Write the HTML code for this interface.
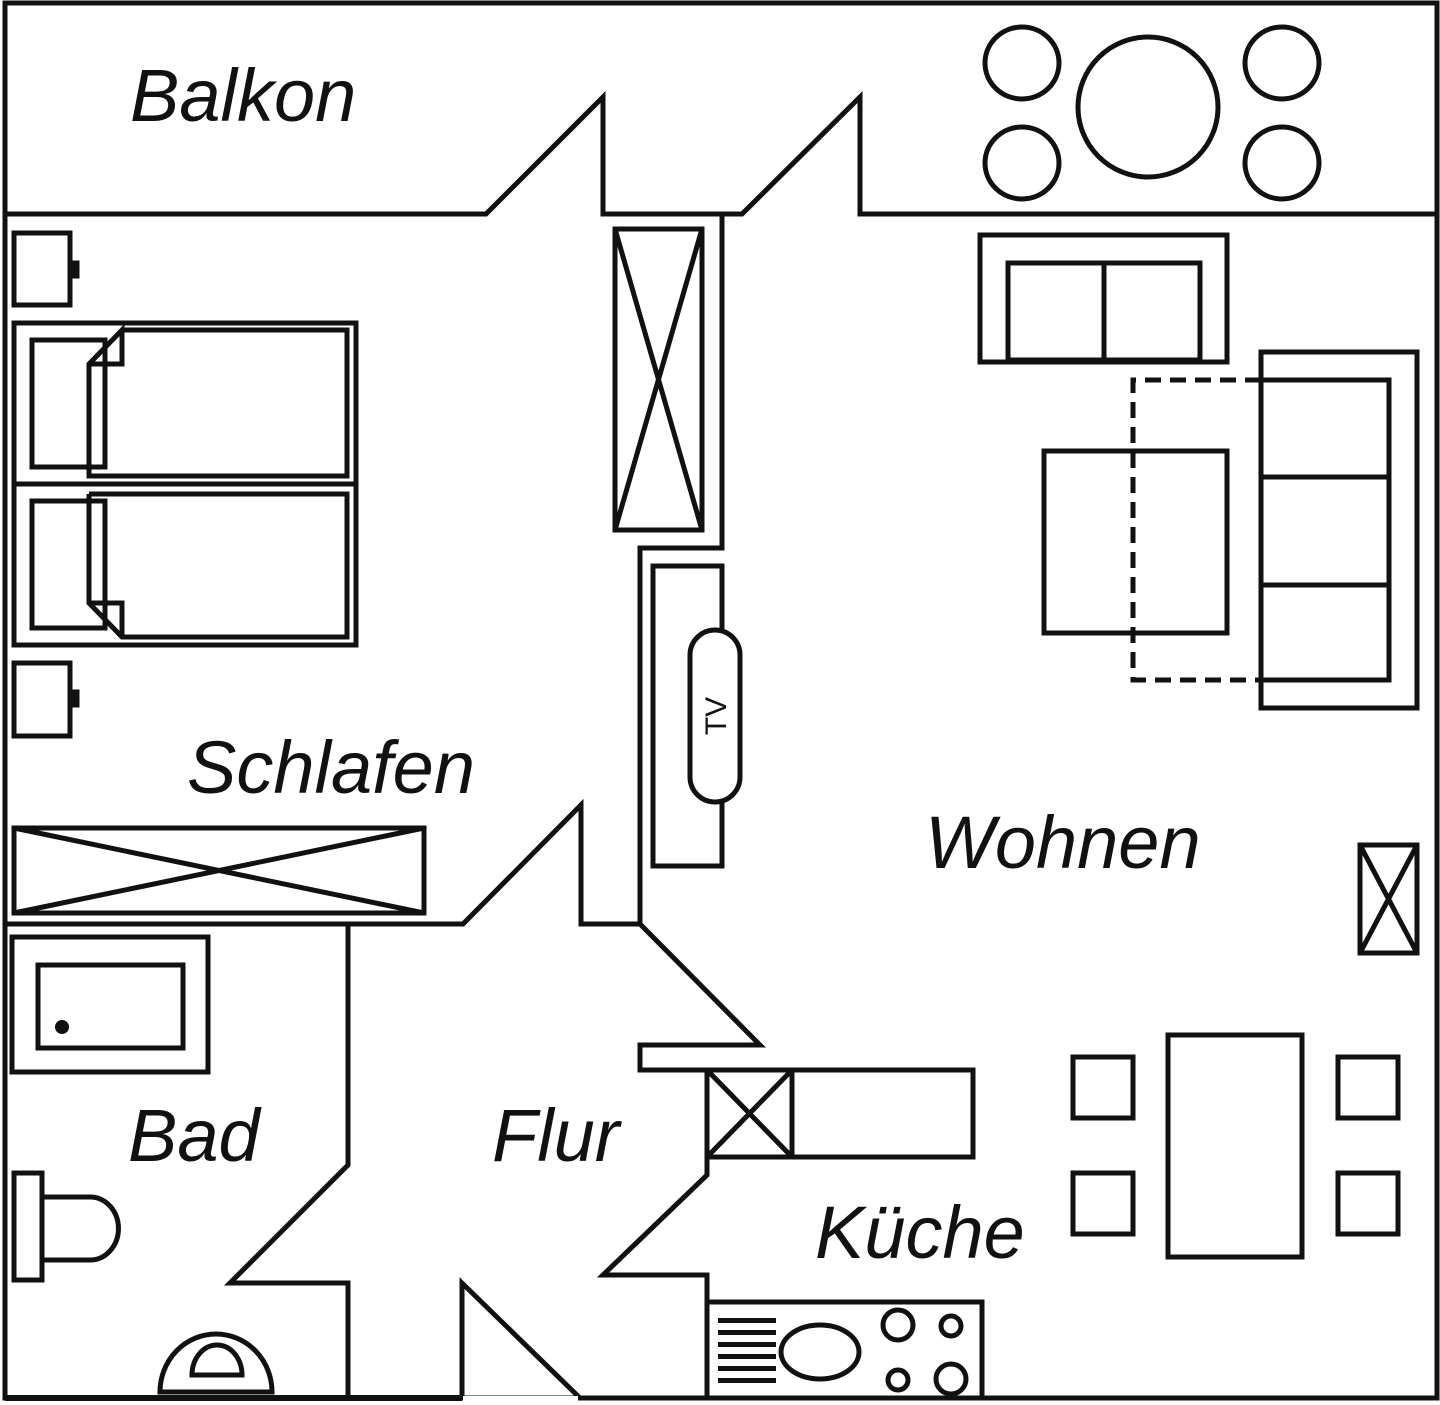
<!DOCTYPE html>
<html><head><style>html,body{margin:0;padding:0;background:#fff}svg{display:block}text{font-family:"Liberation Sans",sans-serif;font-style:italic;fill:#111}</style></head><body>
<svg width="1440" height="1405" viewBox="0 0 1440 1405" xmlns="http://www.w3.org/2000/svg">
<g fill="none" stroke="#111" stroke-width="5" stroke-linejoin="miter">
<rect x="5" y="3" width="1432" height="1395"/>
<polyline points="5,214 486,214 603,97 603,214 742,214 860,97 860,214 1437,214"/>
<polyline points="722,214 722,548 640,548 640,924"/>
<polyline points="5,924 463,924 581,805 581,924 640,924 760,1045 640,1045 640,1070 973,1070 973,1157 707,1157"/>
<polyline points="707,1070 707,1175 603,1275 707,1275 707,1398"/>
<polyline points="348,924 348,1165 230,1283 348,1283 348,1398"/>
<polyline points="462,1398 462,1283 580,1398"/>
<rect x="615" y="229" width="87" height="301"/><path d="M615,229 L702,530 M702,229 L615,530"/>
<rect x="14" y="233" width="56" height="72"/><rect x="72" y="263" width="5" height="13"/>
<rect x="14" y="663" width="56" height="73"/><rect x="72" y="692" width="5" height="13"/>
<rect x="14" y="323" width="342" height="322"/><line x1="14" y1="484" x2="356" y2="484"/>
<rect x="32" y="340" width="73" height="127"/>
<polyline points="122,330 347,330 347,476 89,476 89,364 122,330 122,364 89,364"/>
<rect x="32" y="501" width="73" height="127"/>
<polyline points="89,494 347,494 347,637 122,637 89,603 89,494"/><polyline points="89,603 122,603 122,637"/>
<rect x="14" y="828" width="410" height="85"/><path d="M14,828 L424,913 M424,828 L14,913"/>
<rect x="12" y="937" width="196" height="135"/><rect x="38" y="965" width="145" height="83"/>
<rect x="14" y="1173" width="28" height="107"/>
<path d="M42,1197 L90,1197 A28,31 0 0 1 90,1260 L42,1260"/>
<path d="M160,1392 L272,1392 A56,58 0 0 0 160,1392 Z"/>
<path d="M192,1375 L242,1375 A25,30 0 0 0 192,1375 Z"/>
<rect x="707" y="1070" width="85" height="87"/><path d="M707,1070 L792,1157 M792,1070 L707,1157"/>
<rect x="707" y="1302" width="275" height="96"/>
<ellipse cx="820" cy="1352" rx="39" ry="27"/>
<circle cx="898" cy="1325" r="15"/><circle cx="951" cy="1326" r="10"/>
<circle cx="898" cy="1380" r="10"/><circle cx="951" cy="1379" r="15"/>
<rect x="653" y="566" width="69" height="300"/>
<rect x="690" y="630" width="50" height="172" rx="25" fill="#fff"/>
<rect x="980" y="235" width="247" height="127"/><rect x="1008" y="263" width="192" height="97"/><line x1="1104" y1="263" x2="1104" y2="360"/>
<rect x="1261" y="352" width="156" height="356"/><rect x="1261" y="380" width="128" height="300"/>
<line x1="1261" y1="477" x2="1389" y2="477"/><line x1="1261" y1="585" x2="1389" y2="585"/>
<polyline points="1261,380 1133,380 1133,680 1261,680" stroke-dasharray="16,9"/>
<rect x="1044" y="451" width="183" height="182"/>
<rect x="1360" y="845" width="57" height="108"/><path d="M1360,845 L1417,953 M1417,845 L1360,953"/>
<rect x="1168" y="1035" width="134" height="222"/>
<rect x="1073" y="1057" width="60" height="61"/><rect x="1073" y="1173" width="60" height="61"/>
<rect x="1338" y="1057" width="60" height="61"/><rect x="1338" y="1173" width="60" height="61"/>
<circle cx="1148" cy="107" r="70"/>
<ellipse cx="1022" cy="63" rx="37" ry="36"/><ellipse cx="1282" cy="63" rx="37" ry="36"/>
<ellipse cx="1022" cy="163" rx="37" ry="36"/><ellipse cx="1282" cy="163" rx="37" ry="36"/>
</g>
<rect x="5" y="1395" width="457" height="6" fill="#111"/>
<circle cx="62" cy="1027" r="7" fill="#111"/>
<g fill="#111"><rect x="718" y="1318" width="58" height="5"/><rect x="718" y="1330" width="58" height="5"/><rect x="718" y="1342" width="58" height="5"/><rect x="718" y="1354" width="58" height="5"/><rect x="718" y="1366" width="58" height="5"/><rect x="718" y="1378" width="58" height="5"/></g>
<rect x="463" y="1396" width="115" height="8" fill="#fff"/>
<text x="130" y="121" font-size="74">Balkon</text>
<text x="187" y="793" font-size="74">Schlafen</text>
<text x="925" y="868" font-size="74">Wohnen</text>
<text x="128" y="1161" font-size="74">Bad</text>
<text x="492" y="1161" font-size="74">Flur</text>
<text x="815" y="1258" font-size="74">Küche</text>
<text transform="translate(726,716) rotate(-90)" font-size="30" text-anchor="middle" style="font-style:normal">TV</text>
</svg>
</body></html>
